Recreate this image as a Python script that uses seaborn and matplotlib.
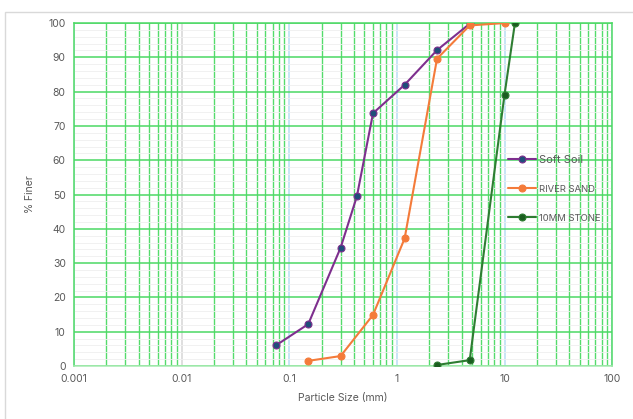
import matplotlib
matplotlib.use("Agg")
import matplotlib.pyplot as plt
import matplotlib.ticker as mticker
import seaborn as sns
import pandas as pd

# Sieve analysis results: particle size (mm) vs cumulative percent finer
soft_soil_size = [0.075, 0.15, 0.30, 0.425, 0.60, 1.18, 2.36, 4.75]
soft_soil_finer = [6.0, 12.2, 34.5, 49.5, 73.7, 82.0, 92.1, 99.8]

river_sand_size = [0.15, 0.30, 0.60, 1.18, 2.36, 4.75, 10.0]
river_sand_finer = [1.5, 2.9, 14.9, 37.2, 89.6, 99.3, 100.0]

stone_size = [2.36, 4.75, 10.0, 12.5]
stone_finer = [0.3, 1.7, 79.1, 100.0]

series_names = ["Soft Soil", "RIVER SAND", "10MM STONE"]
x_tick_labels = ["0.001", "0.01", "0.1", "1", "10", "100"]

frames = []
for name, xs, ys in [
    (series_names[0], soft_soil_size, soft_soil_finer),
    (series_names[1], river_sand_size, river_sand_finer),
    (series_names[2], stone_size, stone_finer),
]:
    frames.append(pd.DataFrame({"size": xs, "finer": ys, "series": name}))
df = pd.concat(frames, ignore_index=True)

sns.set_style("white")
plt.rcParams["font.family"] = ["Inter", "DejaVu Sans"]

fig = plt.figure(figsize=(6.33, 4.19), dpi=100)
# outer chart frame
fig.patches.append(plt.Rectangle((0.008, -0.01), 1.0, 0.982, transform=fig.transFigure,
                                 fill=False, edgecolor="#D9D9D9", linewidth=1.0))
ax = fig.add_axes([0.117, 0.1265, 0.850, 0.8185])

line_colors = {"Soft Soil": "#7E2F8E", "RIVER SAND": "#F47B3A", "10MM STONE": "#2E7D32"}
marker_faces = {"Soft Soil": "#1F4E79", "RIVER SAND": "#F47B3A", "10MM STONE": "#1B5E20"}

for name in series_names:
    sub = df[df["series"] == name]
    sns.lineplot(data=sub, x="size", y="finer", ax=ax, sort=False,
                 color=line_colors[name], linewidth=1.5, marker="o",
                 markersize=5.0, markerfacecolor=marker_faces[name],
                 markeredgecolor=line_colors[name], markeredgewidth=0.8,
                 label=name, zorder=5)

ax.set_xscale("log")
ax.set_xlim(0.001, 100)
ax.set_ylim(0, 100)
ax.xaxis.set_major_locator(mticker.FixedLocator([0.001, 0.01, 0.1, 1, 10, 100]))
ax.xaxis.set_major_formatter(mticker.FixedFormatter(x_tick_labels))
ax.xaxis.set_minor_locator(mticker.LogLocator(base=10, subs=range(2, 10)))
ax.xaxis.set_minor_formatter(mticker.NullFormatter())
ax.yaxis.set_major_locator(mticker.MultipleLocator(10))
ax.yaxis.set_minor_locator(mticker.MultipleLocator(2))

green = "#4CD964"
ax.grid(which="minor", axis="x", color=green, linewidth=1.0, alpha=0.95)
ax.grid(which="major", axis="x", color="#BFE0F5", linewidth=1.2)
ax.grid(which="minor", axis="y", color="#EFEFEF", linewidth=0.6)
ax.grid(which="major", axis="y", color=green, linewidth=1.1)
xgl = ax.get_xgridlines()
if len(xgl) >= 2:
    xgl[1].set_color("#D9D9D9")
ax.set_axisbelow(True)

for side in ["left", "right", "top"]:
    ax.spines[side].set_color(green)
    ax.spines[side].set_linewidth(1.1)
ax.spines["bottom"].set_color("#A8EBB3")
ax.spines["bottom"].set_linewidth(1.1)

ax.tick_params(which="both", length=0, labelsize=7.5, labelcolor="#595959", pad=6)
ax.set_xlabel("Particle Size (mm)", fontsize=7.5, color="#595959", labelpad=6)
ax.set_ylabel("% Finer", fontsize=7.5, color="#595959", labelpad=10)

leg = ax.legend(loc="center left", bbox_to_anchor=(0.79, 0.517), frameon=False,
                labelspacing=1.9, handlelength=2.6, handletextpad=0.3, fontsize=7.5)
for txt, size in zip(leg.get_texts(), [8, 6.8, 6.8]):
    txt.set_color("#595959")
    txt.set_fontsize(size)

fig.savefig("out.png", dpi=100)
